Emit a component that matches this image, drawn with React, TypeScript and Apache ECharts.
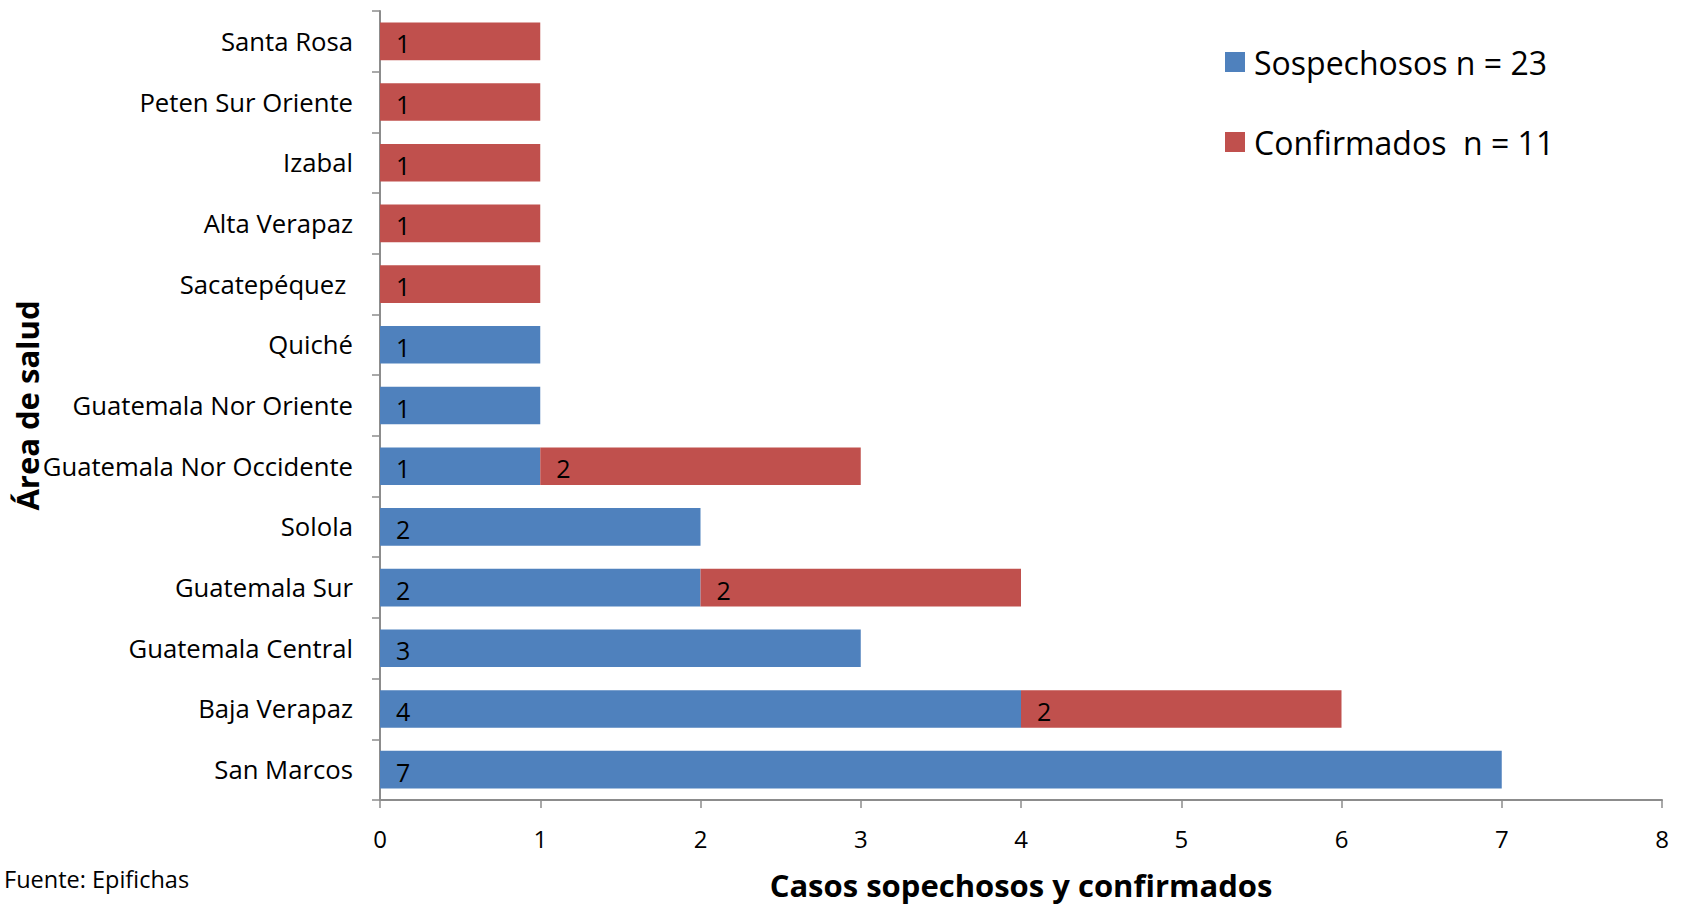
import React, { useEffect, useRef } from "react";
import * as echarts from "echarts";

const categories = [
  "San Marcos",
  "Baja Verapaz",
  "Guatemala Central",
  "Guatemala Sur",
  "Solola",
  "Guatemala Nor Occidente",
  "Guatemala Nor Oriente",
  "Quiché",
  "Sacatepéquez ",
  "Alta Verapaz",
  "Izabal",
  "Peten Sur Oriente",
  "Santa Rosa",
];

const sospechosos: (number | null)[] = [7, 4, 3, 2, 2, 1, 1, 1, null, null, null, null, null];
const confirmados: (number | null)[] = [null, 2, null, 2, null, 2, null, null, 1, 1, 1, 1, 1];

const seriesNames = ["Sospechosos n = 23", "Confirmados  n = 11"];
const xTicks = { min: 0, max: 8, interval: 1 };

const FONT = "Open Sans";

export default function App() {
  const ref = useRef<HTMLDivElement>(null);

  useEffect(() => {
    if (!ref.current) return;
    const chart = echarts.init(ref.current, undefined, { renderer: "svg" });
    const axisColor = "#8c8c8c";
    const labelStyle = {
      show: true,
      position: "insideLeft" as const,
      distance: 16,
      offset: [0, 2],
      color: "#000",
      fontFamily: FONT,
      fontSize: 25,
      formatter: (p: any) => (p.value == null ? "" : String(p.value)),
    };
    chart.setOption({
      animation: false,
      backgroundColor: "#fff",
      textStyle: { fontFamily: FONT },
      title: {
        text: "Fuente: Epifichas",
        left: 4,
        top: 867,
        padding: 0,
        textStyle: { fontFamily: FONT, fontSize: 23.5, fontWeight: "normal", color: "#000" },
      },
      legend: {
        orient: "vertical",
        left: 1220,
        top: 37,
        itemWidth: 20,
        itemHeight: 20,
        itemGap: 40,
        icon: "rect",
        data: seriesNames,
        textStyle: {
          fontFamily: FONT,
          fontSize: 32,
          lineHeight: 40,
          color: "#000",
          padding: [0, 0, 0, 4],
        },
      },
      grid: {
        left: 380,
        right: 20,
        top: 11,
        bottom: 106,
        containLabel: false,
        outerBoundsMode: "none",
      },
      xAxis: {
        type: "value",
        min: xTicks.min,
        max: xTicks.max,
        interval: xTicks.interval,
        name: "Casos sopechosos y confirmados",
        nameLocation: "middle",
        nameGap: 69,
        nameMoveOverlap: false,
        nameTextStyle: { fontFamily: FONT, fontSize: 31, fontWeight: "bold", color: "#000" },
        axisLine: { show: true, lineStyle: { color: axisColor, width: 2 } },
        axisTick: { show: true, length: 8, lineStyle: { color: axisColor, width: 1.5 } },
        axisLabel: { margin: 26, fontFamily: FONT, fontSize: 24, color: "#000" },
        splitLine: { show: false },
      },
      yAxis: {
        type: "category",
        data: categories,
        name: "Área de salud",
        nameLocation: "middle",
        nameGap: 338,
        nameMoveOverlap: false,
        nameTextStyle: { fontFamily: FONT, fontSize: 31, fontWeight: "bold", color: "#000" },
        axisLine: { show: true, lineStyle: { color: axisColor, width: 2 } },
        axisTick: { show: true, length: 8, lineStyle: { color: axisColor, width: 1.5 } },
        axisLabel: { margin: 27, fontFamily: FONT, fontSize: 25.7, color: "#000" },
        splitLine: { show: false },
      },
      series: [
        {
          name: seriesNames[0],
          type: "bar",
          stack: "total",
          barCategoryGap: "38%",
          data: sospechosos,
          itemStyle: { color: "#4F81BD" },
          label: labelStyle,
        },
        {
          name: seriesNames[1],
          type: "bar",
          stack: "total",
          barCategoryGap: "38%",
          data: confirmados,
          itemStyle: { color: "#C0504D" },
          label: labelStyle,
        },
      ],
    });
    return () => chart.dispose();
  }, []);

  return <div ref={ref} style={{ width: 1682, height: 906, position: "absolute", left: 0, top: 0 }} />;
}
